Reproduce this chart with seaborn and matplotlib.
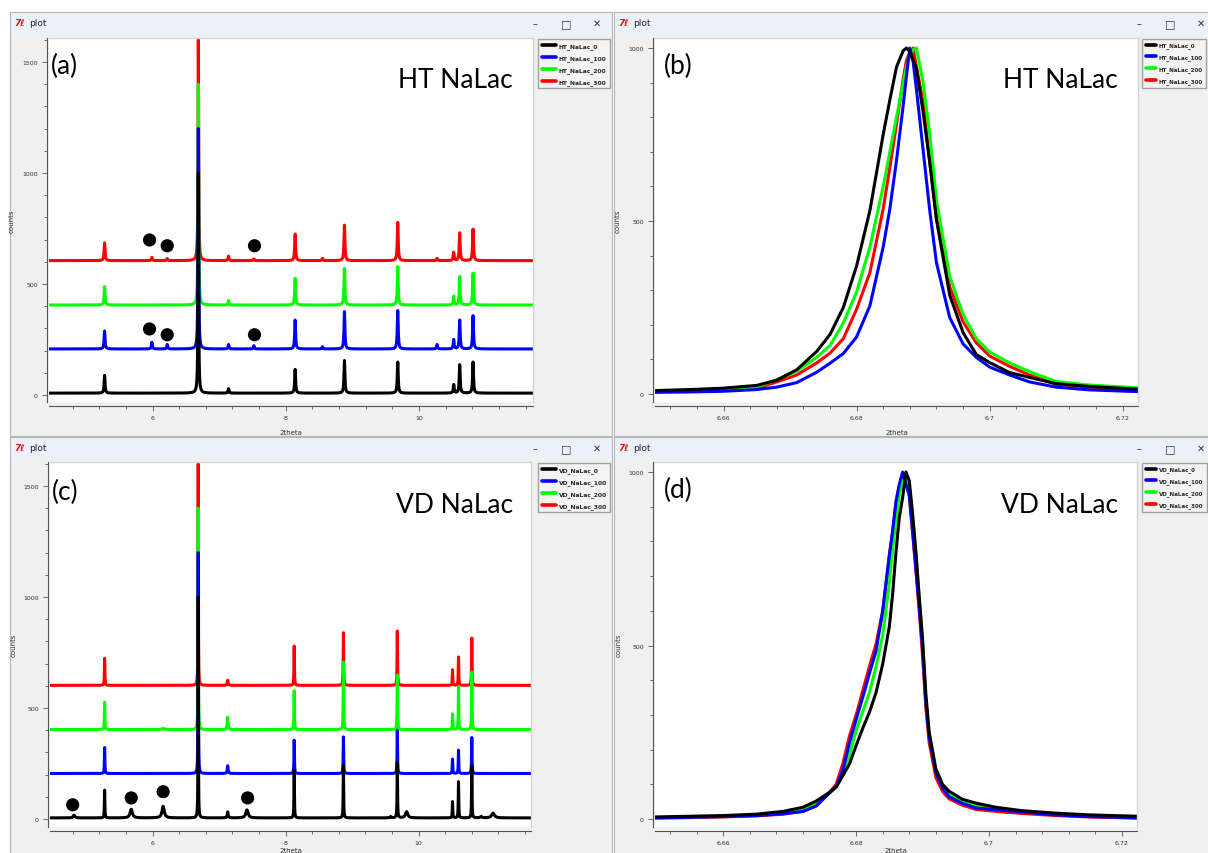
import numpy as np
import pandas as pd
import seaborn as sns
import matplotlib.pyplot as plt
from matplotlib.patches import Rectangle
from matplotlib.lines import Line2D
from matplotlib.ticker import MultipleLocator, FuncFormatter

# ---------------- datos ----------------
HT_NAMES = ['HT_NaLac_0', 'HT_NaLac_100', 'HT_NaLac_200', 'HT_NaLac_300']
VD_NAMES = ['VD_NaLac_0', 'VD_NaLac_100', 'VD_NaLac_200', 'VD_NaLac_300']
COLORS = ['#000000', '#0000ff', '#00ff00', '#ff0000']
OFFSETS = [0, 200, 400, 600]

# (a) picos HT: posicion, anchura y altura sobre la linea base
HT_POS = [5.28, 5.99, 6.22, 6.687, 7.14, 7.52, 8.14, 8.55, 8.88, 9.68, 10.27, 10.52, 10.61, 10.81]
HT_FWHM = [0.016, 0.016, 0.016, 0.011, 0.016, 0.016, 0.016, 0.016, 0.016, 0.016, 0.016, 0.016, 0.016, 0.016]
ht_0 = [80, 0, 0, 992, 20, 0, 107, 0, 147, 140, 0, 38, 128, 140]
ht_100 = [81, 30, 20, 993, 20, 15, 130, 10, 168, 173, 20, 42, 130, 150]
ht_200 = [83, 0, 0, 995, 20, 0, 120, 0, 165, 173, 0, 39, 128, 143]
ht_300 = [80, 15, 10, 995, 20, 8, 120, 10, 160, 172, 10, 37, 125, 142]
ht_base = [8, 7, 5, 5]
dots_a_x = [5.955, 6.22, 7.53, 5.955, 6.22, 7.53]
dots_a_y = [698, 672, 672, 297, 271, 271]

# (c) picos VD
VD_POS = [4.82, 5.28, 5.68, 6.16, 6.687, 7.13, 7.42, 8.13, 8.87, 9.58, 9.68, 9.82, 10.51, 10.60, 10.80, 10.94, 11.12]
VD_FWHM = [0.03, 0.008, 0.04, 0.04, 0.006, 0.015, 0.04, 0.008, 0.008, 0.02, 0.008, 0.04, 0.008, 0.008, 0.008, 0.03, 0.05]
vd_0 = [12, 125, 39, 52, 995, 27, 36, 215, 235, 6, 250, 28, 73, 163, 231, 6, 21]
vd_100 = [0, 117, 0, 0, 995, 35, 0, 150, 165, 0, 195, 0, 65, 105, 162, 0, 0]
vd_200 = [0, 123, 0, 5, 997, 55, 0, 175, 303, 0, 246, 0, 70, 193, 258, 0, 0]
vd_300 = [0, 122, 0, 0, 998, 23, 0, 177, 237, 0, 245, 0, 70, 128, 213, 0, 0]
vd_base = [5, 5, 3, 2]
dots_c_x = [4.80, 5.68, 6.16, 7.43]
dots_c_y = [64, 95, 123, 95]

# (b) zoom pico principal HT
HTZ_X = [6.6497, 6.655, 6.660, 6.665, 6.668, 6.671, 6.674, 6.676, 6.678, 6.680, 6.682,
         6.684, 6.685, 6.686, 6.687, 6.6875, 6.688, 6.6885, 6.689, 6.690, 6.691, 6.692,
         6.694, 6.696, 6.698, 6.700, 6.703, 6.706, 6.710, 6.715, 6.7223]
htz_0 = [10, 13, 17, 25, 40, 70, 123, 172, 250, 370, 530, 750, 850, 945, 992, 1000, 990, 965,
         940, 815, 670, 505, 286, 178, 114, 91, 62, 48, 30, 22, 14]
htz_100 = [5, 6, 8, 13, 20, 33, 63, 89, 117, 165, 255, 425, 535, 675, 833, 920, 1000, 960,
           880, 705, 530, 380, 221, 145, 106, 78, 55, 35, 20, 12, 7]
htz_200 = [7, 9, 13, 20, 42, 66, 106, 140, 205, 295, 425, 600, 700, 800, 900, 945, 980, 995,
           1000, 900, 750, 560, 340, 230, 160, 122, 90, 65, 36, 26, 18]
htz_300 = [6, 8, 11, 17, 35, 55, 90, 118, 160, 245, 351, 535, 655, 780, 910, 965, 985, 1000,
           945, 845, 670, 508, 310, 209, 148, 110, 80, 55, 28, 20, 12]

# (d) zoom pico principal VD
VDZ_X = [6.6497, 6.655, 6.660, 6.665, 6.669, 6.672, 6.674, 6.676, 6.677, 6.678, 6.679, 6.680,
         6.681, 6.682, 6.683, 6.684, 6.685, 6.6855, 6.686, 6.6865, 6.687, 6.6875, 6.688, 6.6885,
         6.689, 6.6895, 6.690, 6.6905, 6.691, 6.692, 6.693, 6.694, 6.696, 6.698, 6.701, 6.705,
         6.710, 6.715, 6.7223]
vdz_0 = [6, 8, 10, 14, 22, 34, 52, 77, 92, 125, 159, 212, 262, 308, 365, 447, 555, 650, 770, 870,
         927, 1000, 975, 880, 770, 640, 520, 360, 250, 145, 100, 80, 57, 46, 34, 24, 17, 12, 8]
vdz_100 = [3, 5, 7, 10, 15, 22, 38, 75, 95, 140, 220, 287, 351, 420, 485, 600, 760, 831, 915, 965,
           1000, 965, 935, 830, 720, 610, 490, 335, 235, 135, 90, 64, 45, 32, 27, 20, 12, 7, 3]
vdz_200 = [4, 6, 8, 12, 18, 26, 45, 75, 92, 135, 185, 255, 310, 365, 440, 530, 680, 780, 860, 935,
           980, 1000, 960, 870, 760, 635, 505, 340, 240, 140, 95, 70, 50, 38, 29, 21, 14, 9, 5]
vdz_300 = [3, 4, 6, 9, 14, 22, 38, 78, 100, 160, 240, 300, 370, 440, 505, 600, 760, 830, 915, 960,
           995, 970, 930, 825, 715, 600, 470, 320, 220, 120, 80, 58, 40, 28, 22, 16, 10, 6, 3]

W, H = 1208, 854

sns.set_style('white')
plt.rcParams['font.family'] = ['DejaVu Sans', 'Noto Sans']

fig = plt.figure(figsize=(W / 100, H / 100), dpi=100)
fig.patch.set_facecolor('white')


def fx(x):
    return x / W


def fy(y):
    return 1 - y / H


def ventana(x0, y0, x1, y1):
    fig.add_artist(Rectangle((fx(x0), fy(y1)), fx(x1 - x0), (y1 - y0) / H, transform=fig.transFigure,
                             facecolor='#f0f0f0', edgecolor='#b5b5b5', lw=0.8, zorder=-10))
    fig.add_artist(Rectangle((fx(x0 + 1), fy(y0 + 22)), fx(x1 - x0 - 2), 21 / H, transform=fig.transFigure,
                             facecolor='#eaf1f9', edgecolor='none', zorder=-9))
    fig.text(fx(x0 + 4), fy(y0 + 11), '7ℓ', color='#e01010', fontsize=6.5, fontweight='bold',
             style='italic', family=['DejaVu Sans', 'Noto Sans'], va='center', ha='left')
    fig.text(fx(x0 + 19), fy(y0 + 11), 'plot', color='#222222', fontsize=6.5, va='center', ha='left')
    bx = x0 + 525
    fig.text(fx(bx), fy(y0 + 11), '–', color='#333333', fontsize=7, va='center', ha='center')
    fig.text(fx(bx + 31), fy(y0 + 11), '□', color='#333333', fontsize=8, va='center', ha='center')
    fig.text(fx(bx + 62), fy(y0 + 11), '✕', color='#333333', fontsize=7, va='center', ha='center')


def estilo(ax, xlim, ylim, xmaj, xmin, ymaj, ymin, xlab_y=-27 / 364):
    ax.set_xlim(xlim)
    ax.set_ylim(ylim)
    ax.set_facecolor('white')
    for s in ['top', 'right']:
        ax.spines[s].set_color('#d5d5d5')
        ax.spines[s].set_linewidth(1.0)
    ax.spines['left'].set_position(('outward', 1.5))
    ax.spines['bottom'].set_position(('outward', 3))
    for s in ['left', 'bottom']:
        ax.spines[s].set_color('#555555')
        ax.spines[s].set_linewidth(0.8)
    ax.xaxis.set_major_locator(MultipleLocator(xmaj))
    ax.xaxis.set_minor_locator(MultipleLocator(xmin))
    ax.yaxis.set_major_locator(MultipleLocator(ymaj))
    ax.yaxis.set_minor_locator(MultipleLocator(ymin))
    ax.xaxis.set_major_formatter(FuncFormatter(lambda v, p: f'{v:g}'))
    ax.tick_params(which='both', direction='out', bottom=True, left=True, color='#555555',
                   labelsize=4.5, labelcolor='#333333', width=0.6)
    ax.tick_params(which='major', length=3.5, pad=3)
    ax.tick_params(which='minor', length=2.5)
    ax.set_xlabel('2theta', fontsize=5, color='#333333')
    ax.set_ylabel('counts', fontsize=5, color='#333333')
    ax.xaxis.set_label_coords(0.5, xlab_y)
    ax.yaxis.set_label_coords(-34 / 484, 0.5)


def leyenda(x, y, names, hl=2.4, size=4.3):
    handles = [Line2D([], [], color=c, lw=2.6) for c in COLORS]
    fig.legend(handles, names, loc='upper left', bbox_to_anchor=(fx(x), fy(y)),
               prop={'size': size, 'weight': 'bold'}, frameon=True, fancybox=False,
               edgecolor='#a0a0a0', facecolor='#f3f3f3', framealpha=1, handlelength=hl,
               handletextpad=0.45, labelspacing=1.0 * 4.3 / size, borderpad=0.6 * 4.3 / size,
               borderaxespad=0)


def perfil(grid, pos, heights, widths, base):
    y = np.full(grid.shape, float(base))
    for p, h, w in zip(pos, heights, widths):
        y += h / (1.0 + ((grid - p) / (w / 2)) ** 2)
    return y


def apilado(ax, pos, widths, series, bases, names):
    grid = np.union1d(np.arange(4.44, 11.72, 0.001), pos)
    frames = []
    for h, b, off, n in zip(series, bases, OFFSETS, names):
        frames.append(pd.DataFrame({'2theta': grid, 'counts': perfil(grid, pos, h, widths, b) + off,
                                    'muestra': n}))
    df = pd.concat(frames, ignore_index=True)
    sns.lineplot(data=df, x='2theta', y='counts', hue='muestra', hue_order=names[::-1],
                 palette=dict(zip(names, COLORS)), estimator=None, sort=False,
                 linewidth=2.2, legend=False, ax=ax)


def zoom(ax, x, series, names):
    df = pd.concat([pd.DataFrame({'2theta': x, 'counts': y, 'muestra': n})
                    for y, n in zip(series, names)], ignore_index=True)
    sns.lineplot(data=df, x='2theta', y='counts', hue='muestra', hue_order=names[::-1],
                 palette=dict(zip(names, COLORS)), estimator=None, sort=False,
                 linewidth=2.2, legend=False, ax=ax)


# ventanas
ventana(10, 13, 612, 437)
ventana(614, 13, 1216, 437)
ventana(10, 438, 612, 862)
ventana(614, 438, 1216, 862)

# (a)
ax_a = fig.add_axes([fx(49), fy(403), fx(484), 364 / H])
apilado(ax_a, HT_POS, HT_FWHM, [ht_0, ht_100, ht_200, ht_300], ht_base, HT_NAMES)
sns.scatterplot(x=dots_a_x, y=dots_a_y, color='black', s=90, edgecolor='none', ax=ax_a, zorder=5)
estilo(ax_a, (4.446, 11.71), (-32, 1608), 2, 0.4, 500, 100)

# (b)
ax_b = fig.add_axes([fx(655), fy(403), fx(483), 364 / H])
zoom(ax_b, HTZ_X, [htz_0, htz_100, htz_200, htz_300], HT_NAMES)
estilo(ax_b, (6.6497, 6.7223), (-23, 1029), 0.02, 0.004, 500, 100)

# (c)
ax_c = fig.add_axes([fx(50), fy(828), fx(481), 365 / H])
apilado(ax_c, VD_POS, VD_FWHM, [vd_0, vd_100, vd_200, vd_300], vd_base, VD_NAMES)
sns.scatterplot(x=dots_c_x, y=dots_c_y, color='black', s=90, edgecolor='none', ax=ax_c, zorder=5)
estilo(ax_c, (4.459, 11.69), (-36, 1608), 2, 0.4, 500, 100, xlab_y=-20 / 365)

# (d)
ax_d = fig.add_axes([fx(655), fy(828), fx(482), 365 / H])
zoom(ax_d, VDZ_X, [vdz_0, vdz_100, vdz_200, vdz_300], VD_NAMES)
estilo(ax_d, (6.6497, 6.7223), (-23, 1029), 0.02, 0.004, 500, 100, xlab_y=-20 / 365)

# leyendas
leyenda(538, 40, HT_NAMES)
leyenda(1142, 40, HT_NAMES, hl=1.9, size=4.0)
leyenda(538, 464, VD_NAMES)
leyenda(1142, 464, VD_NAMES, hl=1.9, size=4.0)

# rotulos
rot = dict(fontsize=19, family='Lato', color='black')
fig.text(fx(51), fy(66), '(a)', ha='left', va='center', **rot)
fig.text(fx(513), fy(88), 'HT NaLac', ha='right', va='baseline', **rot)
fig.text(fx(664), fy(66), '(b)', ha='left', va='center', **rot)
fig.text(fx(1118), fy(88), 'HT NaLac', ha='right', va='baseline', **rot)
fig.text(fx(52), fy(492), '(c)', ha='left', va='center', **rot)
fig.text(fx(513), fy(513), 'VD NaLac', ha='right', va='baseline', **rot)
fig.text(fx(664), fy(490), '(d)', ha='left', va='center', **rot)
fig.text(fx(1118), fy(513), 'VD NaLac', ha='right', va='baseline', **rot)

fig.savefig('out.png', dpi=100)
